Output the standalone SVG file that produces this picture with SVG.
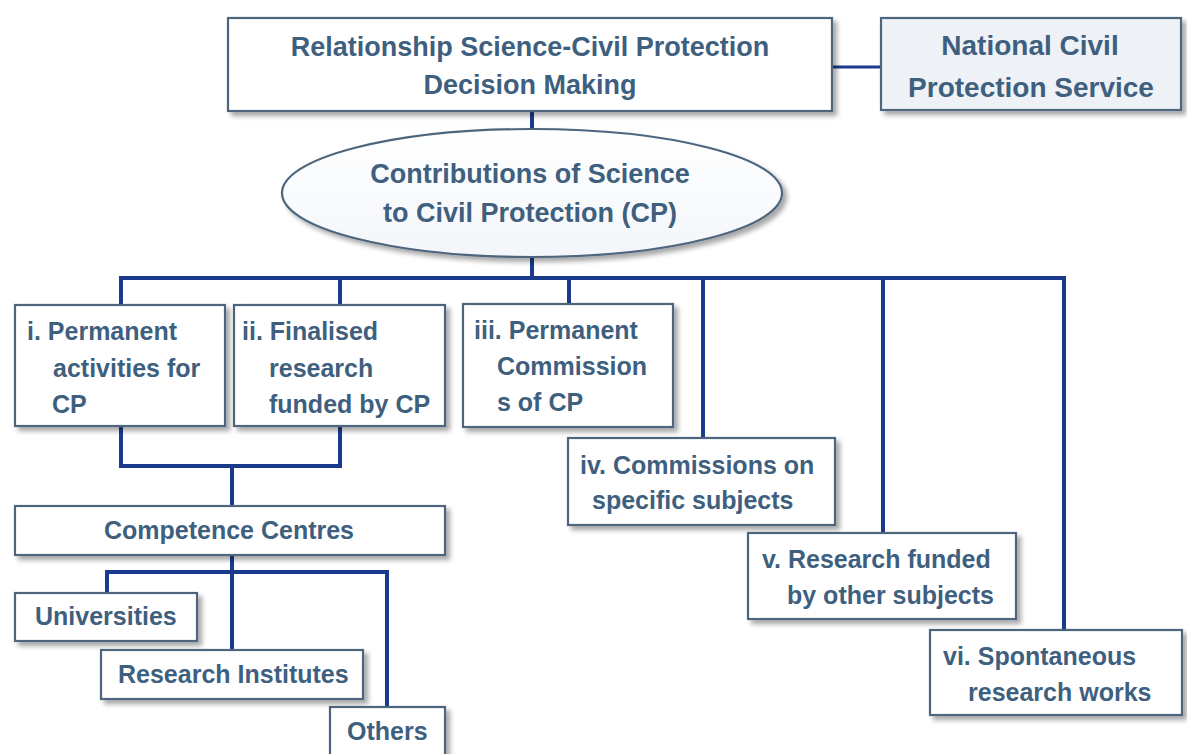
<svg xmlns="http://www.w3.org/2000/svg" width="1187" height="754" viewBox="0 0 1187 754">
<defs>
<filter id="sh" x="-10%" y="-10%" width="130%" height="140%">
<feGaussianBlur in="SourceAlpha" stdDeviation="2.5"/>
<feOffset dx="4" dy="4" result="o"/>
<feComponentTransfer><feFuncA type="linear" slope="0.35"/></feComponentTransfer>
<feMerge><feMergeNode/><feMergeNode in="SourceGraphic"/></feMerge>
</filter>
<linearGradient id="eg" x1="0" y1="0" x2="0" y2="1">
<stop offset="0" stop-color="#ffffff"/><stop offset="1" stop-color="#f3f6fa"/>
</linearGradient>
</defs>
<style>
.box{fill:#ffffff;stroke:#4d667d;stroke-width:2.2;filter:url(#sh)}
.gray{fill:#eef2f7}
.t{font-family:"Liberation Sans",Arial,sans-serif;font-weight:bold;font-size:25px;fill:#3f5f7f}
.big{font-size:27px}
.c{text-anchor:middle}
.ln{stroke:#1b3a8c;stroke-width:4;fill:none;stroke-linecap:square}
</style>
<rect width="1187" height="754" fill="#ffffff"/>
<g id="connectors">
<line class="ln" x1="832" y1="67" x2="881" y2="67" style="stroke-width:3"/>
<line class="ln" x1="532" y1="111" x2="532" y2="129"/>
<line class="ln" x1="532" y1="257" x2="532" y2="278"/>
<polyline class="ln" points="121,305 121,278 1064,278 1064,630"/>
<line class="ln" x1="340" y1="278" x2="340" y2="305"/>
<line class="ln" x1="569" y1="278" x2="569" y2="304"/>
<line class="ln" x1="703" y1="278" x2="703" y2="438"/>
<line class="ln" x1="883" y1="278" x2="883" y2="533"/>
<polyline class="ln" points="121,426 121,466 340,466 340,426"/>
<line class="ln" x1="232" y1="466" x2="232" y2="506"/>
<line class="ln" x1="232" y1="555" x2="232" y2="650"/>
<polyline class="ln" points="107,593 107,572 387,572 387,707"/>
</g>
<g id="n-top">
<rect class="box" x="228" y="18" width="604" height="93"/>
<text class="t big c" x="530" y="56">Relationship Science-Civil Protection</text>
<text class="t big c" x="530" y="94">Decision Making</text>
</g>
<g id="n-national">
<rect class="box gray" x="881" y="18" width="300" height="92"/>
<text class="t big c" x="1030" y="55" style="font-size:28px">National Civil</text>
<text class="t big c" x="1031" y="97" style="font-size:28px">Protection Service</text>
</g>
<g id="n-contrib">
<ellipse cx="532" cy="193" rx="250" ry="64" fill="url(#eg)" stroke="#4d667d" stroke-width="2.2" filter="url(#sh)"/>
<text class="t big c" x="530" y="183">Contributions of Science</text>
<text class="t big c" x="530" y="222">to Civil Protection (CP)</text>
</g>
<g id="n-i">
<rect class="box" x="15" y="305" width="210" height="121"/>
<text class="t" x="27" y="340">i. Permanent</text>
<text class="t" x="53" y="377">activities for</text>
<text class="t" x="52" y="413">CP</text>
</g>
<g id="n-ii">
<rect class="box" x="234" y="305" width="211" height="121"/>
<text class="t" x="242" y="340">ii. Finalised</text>
<text class="t" x="269" y="377">research</text>
<text class="t" x="269" y="413">funded by CP</text>
</g>
<g id="n-iii">
<rect class="box" x="463" y="304" width="210" height="123"/>
<text class="t" x="474" y="339">iii. Permanent</text>
<text class="t" x="497" y="375">Commission</text>
<text class="t" x="497" y="411">s of CP</text>
</g>
<g id="n-iv">
<rect class="box" x="568" y="438" width="267" height="87"/>
<text class="t" x="580" y="474">iv. Commissions on</text>
<text class="t" x="592" y="509">specific subjects</text>
</g>
<g id="n-v">
<rect class="box" x="748" y="533" width="268" height="86"/>
<text class="t" x="762" y="568">v. Research funded</text>
<text class="t" x="787" y="604">by other subjects</text>
</g>
<g id="n-vi">
<rect class="box" x="930" y="630" width="252" height="85"/>
<text class="t" x="943" y="665">vi. Spontaneous</text>
<text class="t" x="968" y="701">research works</text>
</g>
<g id="n-competence">
<rect class="box" x="15" y="506" width="430" height="49"/>
<text class="t c" x="229" y="539">Competence Centres</text>
</g>
<g id="n-universities">
<rect class="box" x="15" y="593" width="182" height="48"/>
<text class="t" x="35" y="625">Universities</text>
</g>
<g id="n-research">
<rect class="box" x="101" y="650" width="262" height="49"/>
<text class="t" x="118" y="683">Research Institutes</text>
</g>
<g id="n-others">
<rect class="box" x="330" y="707" width="115" height="52"/>
<text class="t" x="347" y="740">Others</text>
</g>
</svg>
